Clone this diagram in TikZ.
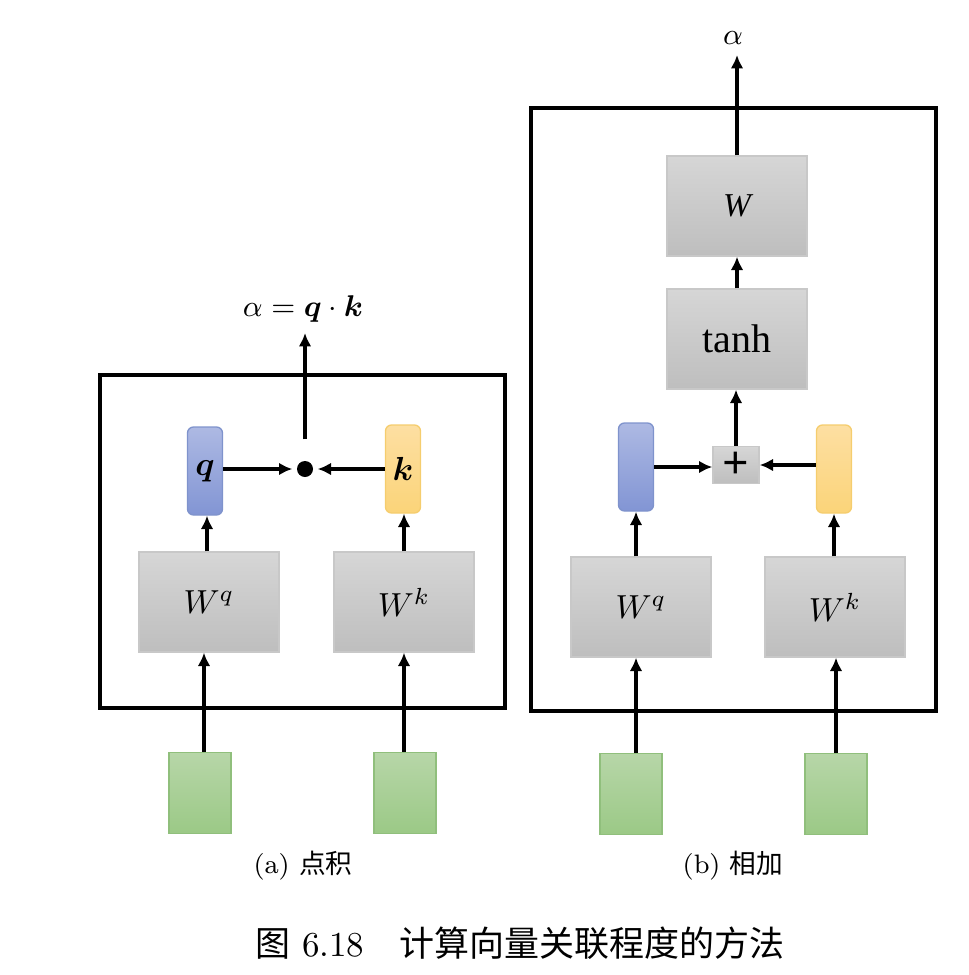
\documentclass[tikz,border=0pt]{standalone}
\usepackage{amsmath}
\usepackage{bm}
\usepackage{fontspec}
\usetikzlibrary{arrows.meta}
\usetikzlibrary{positioning}
\newfontfamily\cjk{Noto Sans CJK SC}
\newfontfamily\timesf{Liberation Serif}
\tikzset{>={Latex[length=4pt,width=3.8pt]}}
\definecolor{boxtop}{HTML}{D6D6D6}
\definecolor{boxbot}{HTML}{BEBEBE}
\definecolor{boxline}{HTML}{C8C8C8}
\definecolor{qtop}{HTML}{ADB9E3}
\definecolor{qbot}{HTML}{8295D4}
\definecolor{qline}{HTML}{7F93CC}
\definecolor{ktop}{HTML}{FDDFA2}
\definecolor{kbot}{HTML}{FBD479}
\definecolor{kline}{HTML}{F5CD6E}
\definecolor{xtop}{HTML}{B7D6A8}
\definecolor{xbot}{HTML}{9BC986}
\definecolor{xline}{HTML}{90BF7C}

\begin{document}
\begin{tikzpicture}[x=0.3pt, y=-0.3pt,
	wbox/.style={rectangle, draw=boxline, top color=boxtop, bottom color=boxbot, inner sep=0pt, minimum width=42pt, minimum height=30pt, font=\fontsize{10}{12}\selectfont},
	vec/.style={rectangle, rounded corners=1.8pt, inner sep=0pt, minimum width=10.5pt, minimum height=26.4pt, font=\fontsize{10}{12}\selectfont},
	vecq/.style={vec, draw=qline, top color=qtop, bottom color=qbot},
	veck/.style={vec, draw=kline, top color=ktop, bottom color=kbot},
	inp/.style={rectangle, draw=xline, top color=xtop, bottom color=xbot, inner sep=0pt, minimum width=18.6pt, minimum height=24.3pt},
	frame/.style={draw=black, line width=1.25pt},
	arr/.style={->, line width=0.95pt},
	subcap/.style={font=\fontsize{8}{10}\selectfont}]
	\useasboundingbox (0,0) rectangle (968,975);
	% (a) dot product
	\draw[frame] (100,375) rectangle (505,708);
	\node[wbox] (wqa) at (209,602) {$W^q$};
	\node[wbox] (wka) at (404,602) {$W^k$};
	\node[vecq] (qa) at (205,471) {$\bm{q}$};
	\node[veck] (ka) at (403,469) {$\bm{k}$};
	\node[circle, fill=black, inner sep=0pt, minimum size=4.8pt] (dot) at (305,469) {};
	\node[inp] (xqa) at (200,793) {};
	\node[inp] (xka) at (405,793) {};
	\coordinate (outa) at (305,333);
	\node[font=\fontsize{9.5}{12}\selectfont] (alphaa) at (303,309) {$\alpha = \bm{q} \cdot \bm{k}$};
	\path[arr]
		(xqa.north -| 204,0) edge (wqa.south -| 204,0)
		(xka.north -| 404,0) edge (wka.south -| 404,0)
		(wqa.north -| 207,0) edge (qa.south -| 207,0)
		(wka.north -| 404,0) edge (ka.south -| 404,0)
		(qa.east |- 0,469) edge[shorten >=1.2pt] (dot)
		(ka.west) edge[shorten >=1.2pt] (dot)
		([yshift=6.3pt]dot.north) edge (outa);
	\node[subcap] (capa) at (303,866) {(a) {\cjk 点积}};
	% (b) addition
	\draw[frame] (531,108) rectangle (936,711);
	\node[wbox] (wqb) at (641,607) {$W^q$};
	\node[wbox] (wkb) at (835,607) {$W^k$};
	\node[vecq] (qb) at (636,467) {};
	\node[veck] (kb) at (834,469) {};
	\node[rectangle, draw=boxline, top color=boxtop, bottom color=boxbot, inner sep=0pt, minimum width=13.8pt, minimum height=11.1pt, font=\fontsize{14}{14}\timesf\bfseries] (plus) at (736,465) {+};
	\node[wbox, font=\fontsize{12}{14}\timesf] (tanh) at (737,339) {tanh};
	\node[wbox, font=\fontsize{10}{12}\timesf\itshape] (wb) at (737,206) {W};
	\node[inp] (xqb) at (631,794) {};
	\node[inp] (xkb) at (836,794) {};
	\coordinate (outb) at (737,55);
	\node[font=\fontsize{9.5}{12}\selectfont] (alphab) at (733,38) {$\alpha$};
	\path[arr]
		(xqb.north -| 636,0) edge (wqb.south -| 636,0)
		(xkb.north -| 836,0) edge (wkb.south -| 836,0)
		(wqb.north -| 636,0) edge (qb.south -| 636,0)
		(wkb.north -| 834,0) edge (kb.south -| 834,0)
		(qb.east) edge (plus.west |- qb.east)
		(kb.west |- plus.west) edge (plus.west -| plus.east)
		(plus.north) edge (tanh.south -| plus.north)
		(tanh.north) edge (wb.south)
		(wb.north) edge (outb);
	\node[subcap] (capb) at (733,866) {(b) {\cjk 相加}};
	% caption
	\node[font=\fontsize{10.5}{12}\selectfont] (title) at (520,943) {{\cjk 图} 6.18\quad{\cjk 计算向量关联程度的方法}};
\end{tikzpicture}
\end{document}
